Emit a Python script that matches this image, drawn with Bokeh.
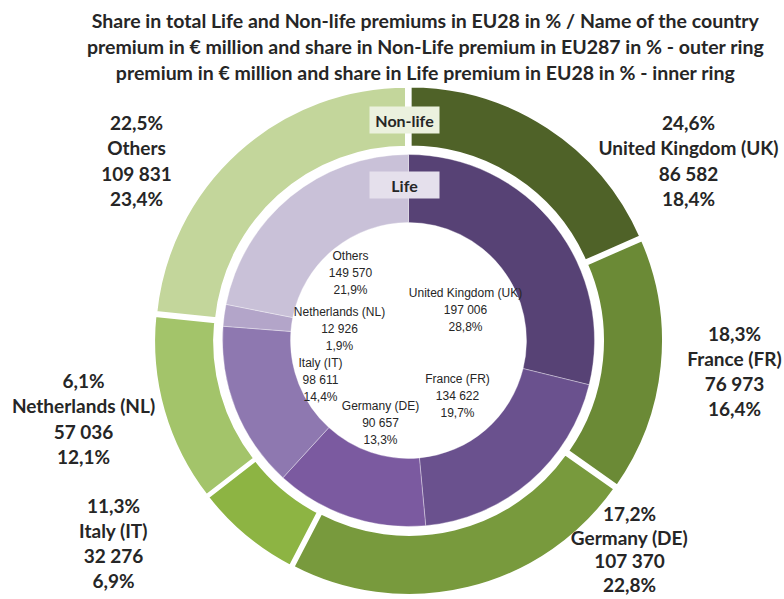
import math
from bokeh.plotting import figure
from bokeh.models import ColumnDataSource, Range1d
from bokeh.core.properties import value
from bokeh.embed import file_html
from bokeh.resources import INLINE

# ---------------- data ----------------
countries = ["United Kingdom (UK)", "France (FR)", "Germany (DE)", "Italy (IT)", "Netherlands (NL)", "Others"]
total_share = ["24,6%", "18,3%", "17,2%", "11,3%", "6,1%", "22,5%"]
nonlife_premium = [86582, 76973, 107370, 32276, 57036, 109831]
nonlife_share = ["18,4%", "16,4%", "22,8%", "6,9%", "12,1%", "23,4%"]
life_premium = [197006, 134622, 90657, 98611, 12926, 149570]
life_share = ["28,8%", "19,7%", "13,3%", "14,4%", "1,9%", "21,9%"]

title_lines = [
    "Share in total Life and Non-life premiums in EU28 in % / Name of the country",
    "premium in \u20ac million and share in Non-Life premium in EU287 in % - outer ring",
    "premium in \u20ac million and share in Life premium in EU28 in % - inner ring",
]

# ---------------- styling / layout ----------------
W, H = 784, 599
outer_colors = ["#4f6228", "#6b8a36", "#789a3d", "#8db443", "#a3c46a", "#c3d69b"]
inner_colors = ["#574275", "#6a518e", "#7b5aa0", "#8e78b0", "#b3a5c9", "#c9c1d8"]
TXT = "#262626"

def px(x):  # picture pixel -> data x
    return x

def py(y):  # picture pixel -> data y
    return H - y

CX, CY = px(408), py(340)
R_OUT_IN, R_OUT_OUT = 191, 252
R_IN_IN, R_IN_OUT = 118, 186
EXPLODE = 3

def fmt(n):
    return f"{n:,}".replace(",", " ")

def wedges(vals):
    tot = float(sum(vals))
    starts, ends = [], []
    a = math.pi / 2
    for v in vals:
        sweep = 2 * math.pi * v / tot
        starts.append(a)
        ends.append(a - sweep)
        a -= sweep
    return starts, ends

o_start, o_end = wedges(nonlife_premium)
i_start, i_end = wedges(life_premium)

o_x, o_y = [], []
for s, e in zip(o_start, o_end):
    m = (s + e) / 2
    o_x.append(CX + EXPLODE * math.cos(m))
    o_y.append(CY + EXPLODE * math.sin(m))

outer_src = ColumnDataSource(dict(x=o_x, y=o_y, s=o_end, e=o_start, c=outer_colors))
inner_src = ColumnDataSource(dict(x=[CX] * 6, y=[CY] * 6, s=i_end, e=i_start, c=inner_colors))

p = figure(width=W, height=H, output_backend="svg", toolbar_location=None,
           x_range=Range1d(0, W), y_range=Range1d(0, H), min_border=0,
           outline_line_color=None, background_fill_color="white")
p.axis.visible = False
p.grid.visible = False

p.annular_wedge(x="x", y="y", inner_radius=R_OUT_IN, outer_radius=R_OUT_OUT,
                start_angle="s", end_angle="e", fill_color="c",
                line_color="white", line_width=3, source=outer_src)
p.annular_wedge(x="x", y="y", inner_radius=R_IN_IN, outer_radius=R_IN_OUT,
                start_angle="s", end_angle="e", fill_color="c",
                line_color="white", line_alpha=0.35, line_width=1, source=inner_src)

# Ring name boxes
p.rect(x=[px(404), px(404)], y=[py(119.5), py(184.5)], width=70, height=27,
       fill_color=["#ebf1de", "#e5e0ec"], line_color=None)
p.text(x=[px(404), px(404)], y=[py(119.5), py(184.5)], text=["Non-life", "Life"],
       text_align="center", text_baseline="middle", text_font=value("Lato"),
       text_font_style="bold", text_font_size="16px", text_color=TXT)

# Title
for k, line in enumerate(title_lines):
    p.text(x=[px(425)], y=[py(20 + 26 * k)], text=[line], text_align="center",
           text_baseline="middle", text_font=value("Lato"), text_font_style="bold",
           text_font_size="19.5px", text_color=TXT)

# Outer labels (bold)
outer_pos = [(688, 122, 25.3), (734, 333, 25), (629, 513, 23.5),
             (113, 505, 25), (83, 380, 25.3), (136, 122, 25.3)]
for i, (lx, ly, dy) in enumerate(outer_pos):
    lines = [total_share[i], countries[i], fmt(nonlife_premium[i]), nonlife_share[i]]
    for k, t in enumerate(lines):
        p.text(x=[px(lx)], y=[py(ly + dy * k)], text=[t], text_align="center",
               text_baseline="middle", text_font=value("Lato"), text_font_style="bold",
               text_font_size="19px", text_color=TXT)

# Inner labels (regular)
inner_pos = [(465, 292), (457, 378), (380, 405), (320, 362), (339, 311), (350, 255)]
for i, (lx, ly) in enumerate(inner_pos):
    lines = [countries[i], fmt(life_premium[i]), life_share[i]]
    for k, t in enumerate(lines):
        p.text(x=[px(lx)], y=[py(ly + 17 * k)], text=[t], text_align="center",
               text_baseline="middle", text_font=value("Liberation Sans"),
               text_font_size="12px", text_color=TXT)

open("out.html", "w").write(file_html(p, INLINE))
